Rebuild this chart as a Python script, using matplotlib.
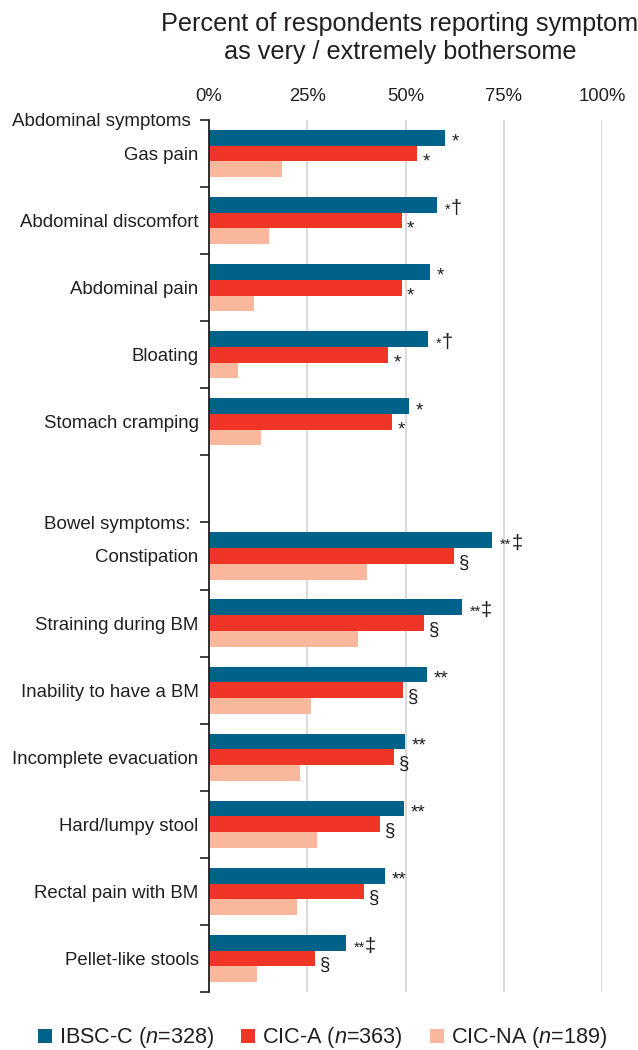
import numpy as np
import matplotlib.pyplot as plt
from matplotlib.patches import Patch

plt.rcParams['font.family'] = ['Liberation Sans', 'DejaVu Sans']
plt.rcParams['mathtext.fontset'] = 'custom'
plt.rcParams['mathtext.rm'] = 'Liberation Sans'
plt.rcParams['mathtext.it'] = 'Liberation Sans:italic'

abdominal = ['Gas pain', 'Abdominal discomfort', 'Abdominal pain', 'Bloating',
             'Stomach cramping']
bowel = ['Constipation', 'Straining during BM', 'Inability to have a BM',
         'Incomplete evacuation', 'Hard/lumpy stool', 'Rectal pain with BM',
         'Pellet-like stools']
group_labels = ['Abdominal symptoms', 'Bowel symptoms:']

# % very / extremely bothersome, abdominal rows then bowel rows
ibsc_c = [60.0, 58.0, 56.2, 55.7, 50.8, 72.0, 64.3, 55.4, 49.8, 49.5, 44.7, 34.8]
cic_a = [52.9, 49.0, 49.0, 45.5, 46.5, 62.3, 54.6, 49.3, 47.0, 43.4, 39.4, 26.9]
cic_na = [18.5, 15.2, 11.4, 7.3, 13.2, 40.1, 37.8, 25.9, 23.1, 27.4, 22.3, 12.2]

ibsc_marks = ['*', '*\u2020', '*', '*\u2020', '*',
              '**\u2021', '**\u2021', '**', '**', '**', '**', '**\u2021']
cica_marks = ['*', '*', '*', '*', '*',
              '\u00a7', '\u00a7', '\u00a7', '\u00a7', '\u00a7', '\u00a7', '\u00a7']

series = ['IBSC-C ($\\mathit{n}$=328)', 'CIC-A ($\\mathit{n}$=363)',
          'CIC-NA ($\\mathit{n}$=189)']
colors = ['#006289', '#ef3526', '#f9b89c']
ink = '#231f20'

# one empty slot between the two groups
ypos = np.r_[np.arange(len(abdominal)), np.arange(len(bowel)) + len(abdominal) + 1]
nslots = len(abdominal) + len(bowel) + 1
h = 0.235

fig = plt.figure(figsize=(6.38, 10.5), dpi=100)
ax = fig.add_axes([209 / 638, 58 / 1050, 393 / 638, 872 / 1050])

ax.barh(ypos - h, ibsc_c, height=h, color=colors[0], zorder=2)
ax.barh(ypos, cic_a, height=h, color=colors[1], zorder=2)
ax.barh(ypos + h, cic_na, height=h, color=colors[2], zorder=2)


def mark(text, x, y, dy, gap):
    # stars alone are full size; before a dagger they shrink and the dagger follows
    stars = text.rstrip('\u2020\u2021')
    sym = text[len(stars):]
    if stars and not sym:
        ax.annotate(stars, xy=(x, y), xytext=(gap, dy), textcoords='offset points',
                    ha='left', va='baseline', fontsize=13.5, color=ink)
        return
    if sym == '' or stars == '':
        ax.annotate(text, xy=(x, y), xytext=(gap, dy), textcoords='offset points',
                    ha='left', va='baseline', fontsize=14, color=ink)
        return
    t = ax.annotate(stars, xy=(x, y), xytext=(gap + 0.5, dy), textcoords='offset points',
                    ha='left', va='baseline', fontsize=10.5, color=ink)
    ax.annotate(sym, xy=(1, 0), xycoords=t, xytext=(0.3, -0.8),
                textcoords='offset points', ha='left', va='bottom',
                fontsize=14.5, color=ink)


for y, v, m in zip(ypos, ibsc_c, ibsc_marks):
    mark(m, v, y - h, -6.4, 5)
for y, v, m in zip(ypos, cic_a, cica_marks):
    mark(m, v, y, -9.2 if m == '*' else -8.3, 4)

ax.set_xlim(0, 100)
ax.set_ylim(nslots - 0.5, -0.5)
ax.xaxis.tick_top()
ax.set_xticks([0, 25, 50, 75, 100])
ax.set_xticklabels(['0%', '25%', '50%', '75%', '100%'])
ax.tick_params(axis='x', length=0, pad=11, labelsize=13.3, labelcolor=ink)
ax.xaxis.grid(True, color='#d9d9d9', lw=1.4)
ax.set_axisbelow(True)

# boundary ticks carry the group headings, centre ticks the symptom names
bounds = np.arange(nslots + 1) - 0.5
blabels = [''] * len(bounds)
blabels[0] = group_labels[0]
blabels[len(abdominal) + 1] = group_labels[1]
ax.set_yticks(bounds)
ax.set_yticklabels(blabels)
ax.set_yticks(ypos, minor=True)
ax.set_yticklabels(abdominal + bowel, minor=True)
ax.tick_params(axis='y', which='major', length=6.5, width=1.2, color=ink,
               pad=7, labelsize=13.5, labelcolor=ink)
ax.tick_params(axis='y', which='minor', length=0, pad=7.5,
               labelsize=13.4, labelcolor=ink)

for s in ['top', 'right', 'bottom']:
    ax.spines[s].set_visible(False)
ax.spines['left'].set_color(ink)
ax.spines['left'].set_linewidth(1.3)

fig.text(0.627, 1 - 12 / 1050,
         'Percent of respondents reporting symptom\nas very / extremely bothersome',
         ha='center', va='top', fontsize=18.2, linespacing=1.22, color=ink)

handles = [Patch(facecolor=c, edgecolor='none') for c in colors]
fig.legend(handles, series, loc='center', bbox_to_anchor=(0.5055, 12 / 1050),
           ncol=3, frameon=False, fontsize=15.6, handlelength=0.65,
           handleheight=0.65, handletextpad=0.3, columnspacing=1.27,
           labelcolor=ink)

fig.savefig('out.png', dpi=100)
